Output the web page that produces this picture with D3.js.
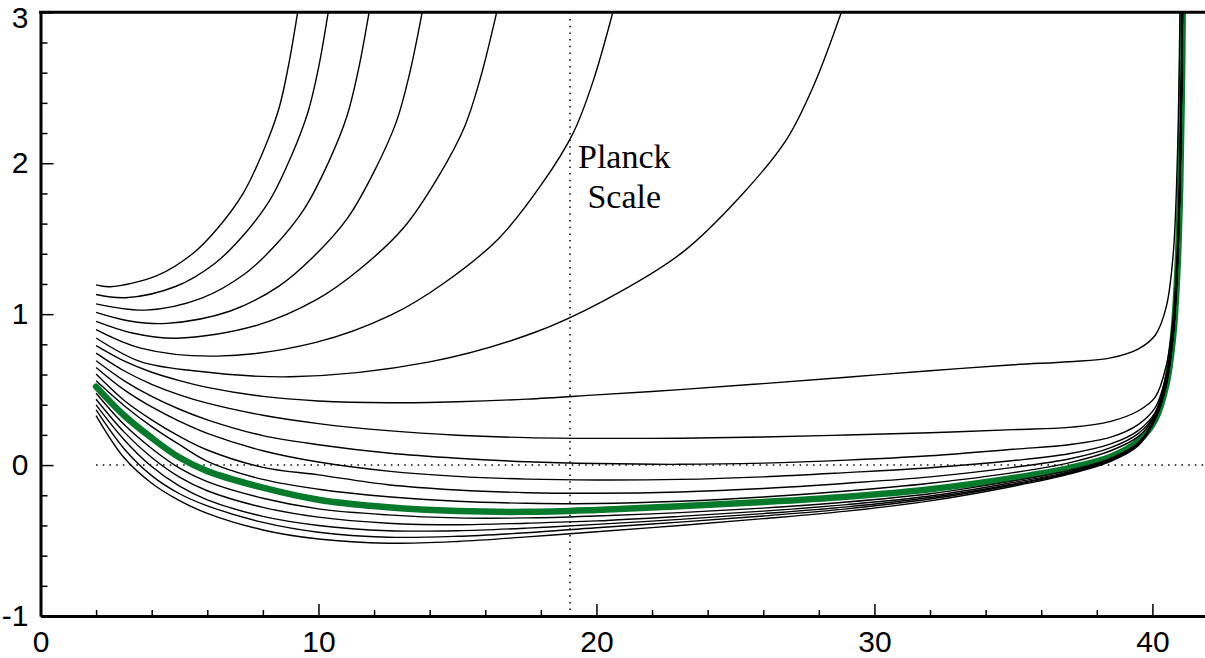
<!DOCTYPE html>
<meta charset="utf-8">
<style>
body { margin: 0; background: #fff; }
.axis text { font-family: 'Liberation Sans', Arial, Helvetica, sans-serif; font-size: 30px; fill: #000; }
.axis .domain { stroke: #000; stroke-width: 3px; }
.axis line { stroke: #000; stroke-width: 1.5px; }
.curve { fill: none; stroke: #000; stroke-width: 1.4px; }
.higgs { fill: none; stroke: #087a2c; stroke-width: 6.5px; stroke-linecap: round; }
.guide { stroke: #000; stroke-width: 1.5px; stroke-dasharray: 1.5,5.2; }
.label { font-family: 'Liberation Serif', 'Times New Roman', serif; font-size: 34px; fill: #000; }
</style>
<svg width="1205" height="658"></svg>
<script src="https://d3js.org/d3.v7.min.js"></script>
<script>
// shared scale grid (log10 mu) for the lower family
var muGrid = [2, 3, 4, 5, 6, 8, 10, 12.5, 15, 17.5, 20, 23, 26, 29, 32, 35, 37, 38.5, 39.5, 40.1, 40.5, 40.75, 40.9, 41.0, 41.06, 41.1];

var lam8  = [.791, .69, .615, .56, .515, .455, .425, .413, .42, .437, .465, .50, .54, .582, .625, .665, .685, .71, .77, .86, 1.05, 1.4, 2.05, 3.1, 3.9, 4.6];
var lam9  = [.742, .625, .535, .465, .41, .33, .275, .228, .198, .182, .177, .178, .186, .199, .214, .235, .25, .29, .36, .45, .66, .98, 1.45, 2.1, 2.85, 3.6];
var lam10 = [.691, .56, .455, .37, .30, .195, .135, .08, .045, .022, .01, .005, .013, .033, .062, .105, .135, .185, .27, .38, .60, .93, 1.38, 2.02, 2.75, 3.5];
var lam11 = [.647, .50, .385, .29, .21, .095, .02, -.04, -.075, -.093, -.099, -.095, -.078, -.05, -.018, .03, .075, .14, .23, .35, .58, .91, 1.36, 2.0, 2.72, 3.45];
var lam12 = [.603, .43, .30, .19, .10, -.015, -.065, -.13, -.165, -.183, -.187, -.178, -.155, -.12, -.078, -.015, .04, .115, .21, .34, .57, .90, 1.35, 1.98, 2.70, 3.42];
var lam13 = [.558, .395, .255, .135, .025, -.095, -.16, -.21, -.24, -.253, -.255, -.24, -.212, -.172, -.12, -.05, .015, .095, .19, .33, .56, .89, 1.34, 1.97, 2.68, 3.40];
var lamHiggs = [.52, .33, .18, .05, -.04, -.15, -.23, -.28, -.305, -.31, -.297, -.273, -.245, -.21, -.16, -.085, -.02, .055, .16, .30, .53, .86, 1.29, 1.85, 2.47, 3.17];
var lam15 = [.476, .27, .11, -.02, -.11, -.22, -.29, -.33, -.35, -.35, -.337, -.315, -.285, -.245, -.19, -.105, -.035, .045, .15, .32, .55, .88, 1.33, 1.95, 2.66, 3.38];
var lam16 = [.436, .22, .05, -.08, -.17, -.28, -.345, -.385, -.395, -.385, -.37, -.34, -.305, -.262, -.205, -.115, -.045, .04, .145, .315, .545, .875, 1.325, 1.945, 2.65, 3.37];
var lam17 = [.399, .17, -.01, -.14, -.23, -.34, -.40, -.435, -.435, -.418, -.393, -.36, -.322, -.277, -.215, -.125, -.05, .035, .14, .31, .54, .87, 1.32, 1.94, 2.64, 3.36];
var lam18 = [.365, .11, -.07, -.19, -.27, -.38, -.445, -.478, -.472, -.448, -.415, -.378, -.337, -.29, -.225, -.132, -.055, .03, .135, .305, .535, .865, 1.315, 1.935, 2.63, 3.35];
var lam19 = [.328, .05, -.12, -.235, -.32, -.43, -.49, -.518, -.506, -.476, -.442, -.40, -.355, -.305, -.237, -.14, -.06, .025, .13, .30, .53, .86, 1.31, 1.93, 2.62, 3.34];

// curves that run off the top (own mu points)
var r1x = [2, 2.5, 4.19, 5.47, 6.35, 7.29, 8.04, 8.58, 8.91, 9.25];
var r1y = [1.194, 1.182, 1.255, 1.400, 1.564, 1.800, 2.091, 2.364, 2.636, 3.0];
var r2x = [2, 3.06, 4.88, 6.27, 7.22, 8.24, 9.04, 9.62, 9.99, 10.35];
var r2y = [1.130, 1.109, 1.185, 1.336, 1.506, 1.752, 2.055, 2.338, 2.622, 3.0];
var r3x = [2, 3.8, 5.80, 7.33, 8.37, 9.49, 10.38, 11.02, 11.42, 11.82];
var r3y = [1.068, 1.027, 1.106, 1.264, 1.441, 1.698, 2.014, 2.309, 2.605, 3.0];
var r4x = [2, 3.2, 4.53, 6.83, 8.58, 9.77, 11.06, 12.07, 12.81, 13.27, 13.73];
var r4y = [1.012, .955, .939, 1.021, 1.186, 1.372, 1.640, 1.970, 2.279, 2.588, 3.0];
var r5x = [2, 3.3, 4.9, 7.78, 9.96, 11.46, 13.07, 14.34, 15.26, 15.83, 16.41];
var r5y = [.952, .875, .840, .926, 1.099, 1.294, 1.574, 1.920, 2.244, 2.568, 3.0];
var r6x = [2, 3.6, 6.35, 9.91, 12.62, 14.47, 16.46, 18.03, 19.17, 19.88, 20.59];
var r6y = [.897, .775, .722, .813, .995, 1.200, 1.497, 1.861, 2.203, 2.544, 3.0];
var r7x = [2, 3.6, 5.5, 9.0, 13.95, 17.72, 20.29, 23.07, 25.24, 26.83, 27.82, 28.81];
var r7y = [.842, .685, .625, .585, .682, .875, 1.092, 1.406, 1.793, 2.155, 2.517, 3.0];

var planckMu = 19.05;
var xTicks = [0, 10, 20, 30, 40];
var xMinor = [2, 4, 6, 8, 12, 14, 16, 18, 22, 24, 26, 28, 32, 34, 36, 38, 42];
var yTicks = [-1, 0, 1, 2, 3];
var yMinor = [-0.8, -0.6, -0.4, -0.2, 0.2, 0.4, 0.6, 0.8, 1.2, 1.4, 1.6, 1.8, 2.2, 2.4, 2.6, 2.8];

var svg = d3.select("svg");

var x = d3.scaleLinear().domain([0, 42]).range([40.5, 1208]);
var y = d3.scaleLinear().domain([-1, 3]).range([616, 12.3]);

svg.append("defs").append("clipPath").attr("id", "plot")
  .append("rect")
    .attr("x", x(0)).attr("y", y(3))
    .attr("width", x(42) - x(0)).attr("height", y(-1) - y(3));

var line = d3.line()
    .x(function(d) { return x(d[0]); })
    .y(function(d) { return y(d[1]); })
    .curve(d3.curveCatmullRom.alpha(0.5));

function pairs(xs, ys) { return xs.map(function(v, i) { return [v, ys[i]]; }); }

var plot = svg.append("g").attr("clip-path", "url(#plot)");

// dotted guides
plot.append("line").attr("class", "guide")
    .attr("x1", x(2)).attr("x2", x(42)).attr("y1", y(0)).attr("y2", y(0));
plot.append("line").attr("class", "guide")
    .attr("x1", x(planckMu)).attr("x2", x(planckMu)).attr("y1", y(3)).attr("y2", y(-1));

plot.append("path").attr("class", "higgs").attr("d", line(pairs(muGrid, lamHiggs)));

var lower = [lam8, lam9, lam10, lam11, lam12, lam13, lam15, lam16, lam17, lam18, lam19];
plot.selectAll("path.low")
    .data(lower)
  .enter().append("path")
    .attr("class", "curve low")
    .attr("d", function(d) { return line(pairs(muGrid, d)); });

var rising = [[r1x, r1y], [r2x, r2y], [r3x, r3y], [r4x, r4y], [r5x, r5y], [r6x, r6y], [r7x, r7y]];
plot.selectAll("path.up")
    .data(rising)
  .enter().append("path")
    .attr("class", "curve up")
    .attr("d", function(d) { return line(pairs(d[0], d[1])); });

// axes, ticks pointing inward
svg.append("g")
    .attr("class", "axis")
    .attr("transform", "translate(" + x(0) + ",0)")
    .call(d3.axisLeft(y).tickValues(yMinor).tickSize(-7).tickSizeOuter(0).tickFormat(""))
    .select(".domain").remove();

var yAxis = svg.append("g")
    .attr("class", "axis")
    .attr("transform", "translate(" + x(0) + ",0)")
    .call(d3.axisLeft(y).tickValues(yTicks).tickSize(-13).tickSizeOuter(0).tickPadding(12)
      .tickFormat(function(d) { return d; }));
// keep the top label inside the page
yAxis.selectAll(".tick text").filter(function(d) { return d === 3; }).attr("dy", "0.52em");

svg.append("g")
    .attr("class", "axis")
    .attr("transform", "translate(0," + y(-1) + ")")
    .call(d3.axisBottom(x).tickValues(xMinor).tickSize(-6).tickSizeOuter(0).tickFormat(""))
    .select(".domain").remove();

svg.append("g")
    .attr("class", "axis")
    .attr("transform", "translate(0," + y(-1) + ")")
    .call(d3.axisBottom(x).tickValues(xTicks).tickSize(-12).tickSizeOuter(0).tickPadding(15));

// top frame
svg.append("line")
    .attr("x1", x(0) - 1.5).attr("x2", x(42))
    .attr("y1", y(3)).attr("y2", y(3))
    .attr("stroke", "#000").attr("stroke-width", 3);

svg.append("text").attr("class", "label")
    .attr("x", x(21)).attr("y", y(1.968))
    .attr("text-anchor", "middle")
    .text("Planck");
svg.append("text").attr("class", "label")
    .attr("x", x(21)).attr("y", y(1.703))
    .attr("text-anchor", "middle")
    .text("Scale");
</script>
